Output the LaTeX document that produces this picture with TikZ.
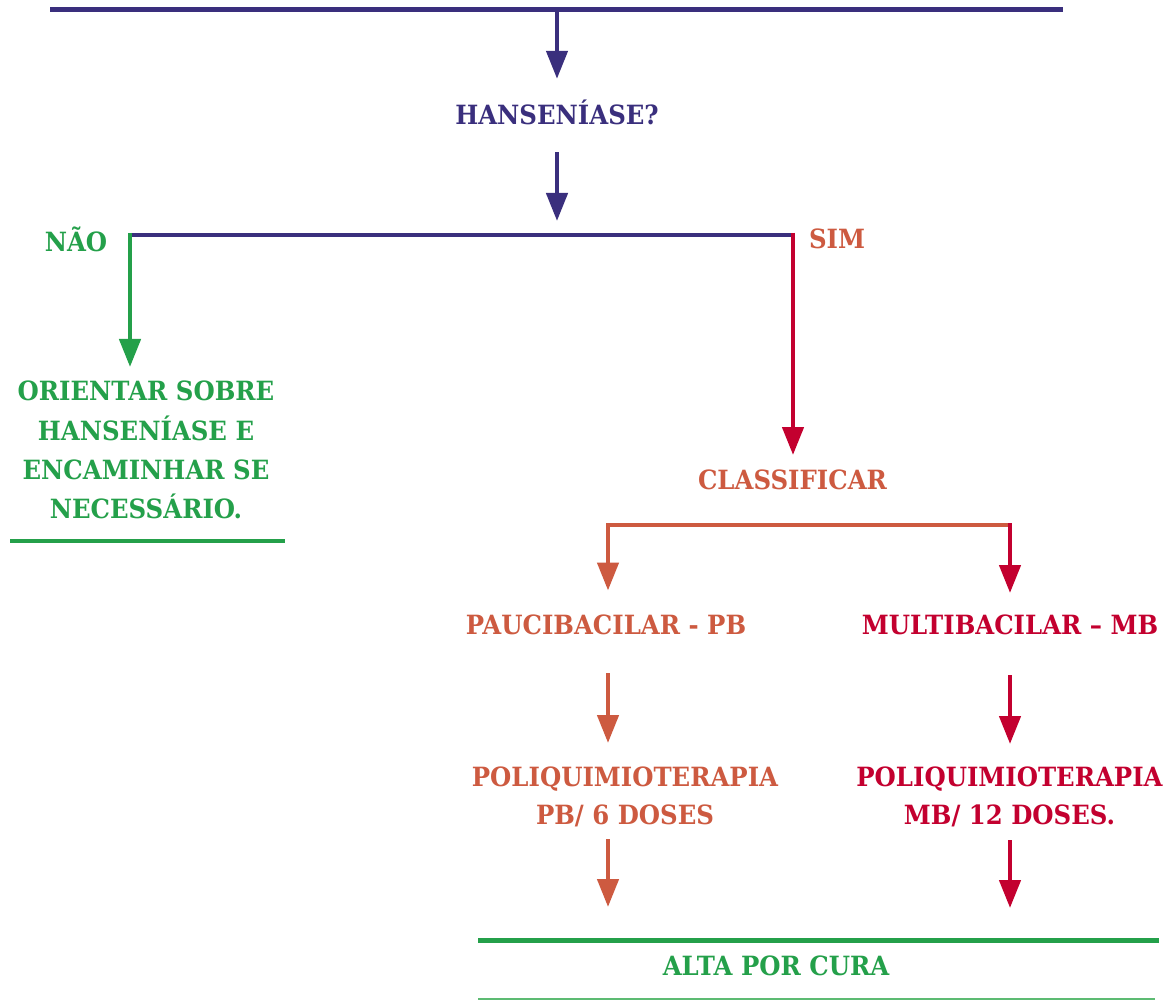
\documentclass[tikz,border=0pt]{standalone}
\usepackage{fontspec}
\setmainfont{DejaVu Serif}[FakeStretch=0.92]
\usetikzlibrary{arrows.meta}

\definecolor{navy}{RGB}{58,47,125}
\definecolor{leaf}{RGB}{36,160,74}
\definecolor{rust}{RGB}{205,90,64}
\definecolor{crimson}{RGB}{195,0,47}
\definecolor{paleleaf}{RGB}{93,187,115}

\tikzset{
  bar/.style={line width=4.5pt},
  flow/.style={line width=4.5pt, -{Triangle[width=21pt,length=28pt]}},
  lbl/.style={font=\bfseries\fontsize{26.5}{39}\selectfont, inner sep=0pt,
              text height=19.3pt, text depth=0pt},
  mlbl/.style={inner sep=0pt, align=center},
}

\begin{document}
\begin{tikzpicture}[x=1pt,y=-1pt]
  \useasboundingbox (0,0) rectangle (1173,1000);
  \fill[white] (0,0) rectangle (1173,1000);

  % top rule and the question
  \coordinate (topL) at (50,9.5);
  \coordinate (topR) at (1063,9.5);
  \coordinate (topM) at (557,9.5);
  \draw[bar, navy] (topL) -- (topR);

  \node[lbl, anchor=base, text=navy] (hans) at (557,125) {HANSENÍASE?};
  \draw[flow, navy, shorten >=26.7pt] (topM) -- (hans.north);

  % yes / no fork
  \coordinate (fork) at (557,235);
  \coordinate (naoC) at (130,235);
  \coordinate (simC) at (793,235);
  \draw[flow, navy, shorten <=27pt, shorten >=14pt] (hans.south) -- (fork);
  \draw[bar, navy] (naoC) -- (simC);

  \node[lbl, anchor=base, text=leaf] (nao) at (76,252) {NÃO};
  \node[lbl, anchor=base, text=rust] (sim) at (837,249) {SIM};

  % "no" branch
  \node[mlbl, anchor=north, text=leaf, font=\bfseries\fontsize{26.5}{39.3}\selectfont]
    (orient) at (146,381) {ORIENTAR SOBRE\\HANSENÍASE E\\ENCAMINHAR SE\\NECESSÁRIO.};
  \draw[flow, leaf, shorten <=-2pt, shorten >=14pt] (naoC) -- (orient.north -| naoC);
  \coordinate (orL) at (10,541);
  \coordinate (orR) at (285,541);
  \draw[bar, leaf] (orL) -- (orR);

  % "yes" branch
  \node[lbl, anchor=base, text=rust] (class) at (792.5,489) {CLASSIFICAR};
  \draw[flow, crimson, shorten <=-2pt, shorten >=14.5pt] (simC) -- (class.north -| simC);

  \coordinate (brL) at (608,525);
  \coordinate (brR) at (1010,525);
  \draw[bar, rust] (brL) -- (brR);

  \node[lbl, anchor=base, text=rust] (pb) at (606,634) {PAUCIBACILAR - PB};
  \node[lbl, anchor=base, text=crimson] (mb) at (1010,634) {MULTIBACILAR – MB};
  \draw[flow, rust, shorten <=-2pt, shorten >=24pt] (brL) -- (pb.north -| brL);
  \draw[flow, crimson, shorten <=-2pt, shorten >=21.5pt] (brR) -- (mb.north -| brR);

  \node[mlbl, anchor=north, text=rust, font=\bfseries\fontsize{26.5}{38}\selectfont]
    (pqpb) at (625,767) {POLIQUIMIOTERAPIA\\PB/ 6 DOSES};
  \node[mlbl, anchor=north, text=crimson, font=\bfseries\fontsize{26.5}{38}\selectfont]
    (pqmb) at (1009.5,767) {POLIQUIMIOTERAPIA\\MB/ 12 DOSES.};
  \draw[flow, rust, shorten <=39pt, shorten >=24pt] (pb.south -| brL) -- (pqpb.north -| brL);
  \draw[flow, crimson, shorten <=41pt, shorten >=23pt] (mb.south -| brR) -- (pqmb.north -| brR);

  % discharge
  \coordinate (altaL) at (478,940.5);
  \coordinate (altaR) at (1159,940.5);
  \draw[line width=5pt, leaf] (altaL) -- (altaR);
  \draw[flow, rust, shorten <=11.5pt, shorten >=33.5pt] (pqpb.south -| brL) -- (altaL -| brL);
  \draw[flow, crimson, shorten <=12.5pt, shorten >=32.5pt] (pqmb.south -| brR) -- (altaL -| brR);

  \node[lbl, anchor=base, text=leaf] (alta) at (776,975) {ALTA POR CURA};
  \coordinate (lowL) at (478,999);
  \coordinate (lowR) at (1155,999);
  \draw[line width=1.5pt, paleleaf] (lowL) -- (lowR);
\end{tikzpicture}
\end{document}
